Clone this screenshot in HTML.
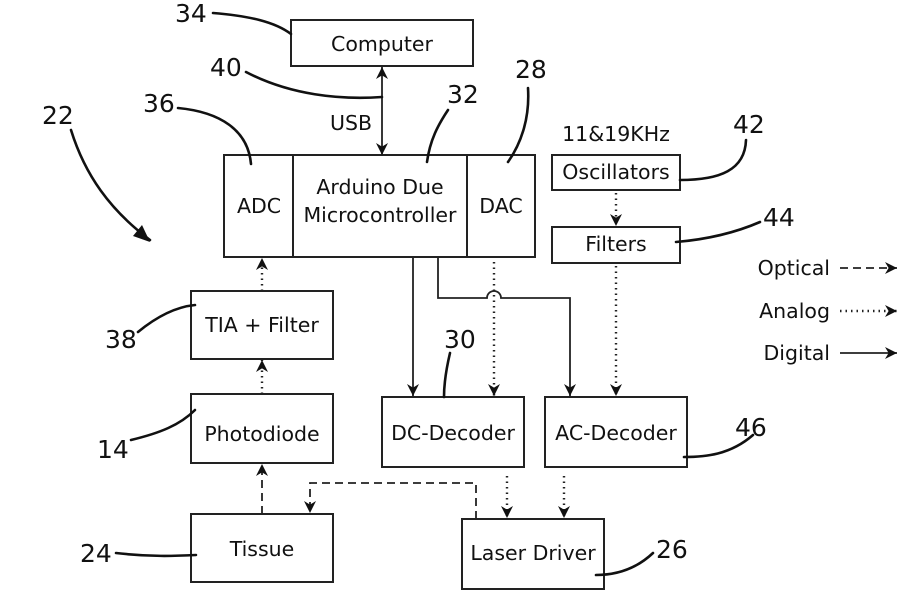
<!DOCTYPE html>
<html><head><meta charset="utf-8"><style>
body{margin:0;background:#fff}
svg{display:block}
text{font-family:"DejaVu Sans","Liberation Sans",sans-serif;fill:#111}
.b{fill:none;stroke:#222;stroke-width:2}
.l{fill:none;stroke:#111;stroke-width:2.6;stroke-linecap:round}
.d{fill:none;stroke:#222;stroke-width:1.8}
.dot{fill:none;stroke:#222;stroke-width:2.4;stroke-dasharray:1.5 4}
.dash{fill:none;stroke:#222;stroke-width:1.8;stroke-dasharray:8 5}
.n{font-size:25px}
.t{font-size:20.5px}
</style></head><body>
<svg width="912" height="609" viewBox="0 0 912 609">
<defs><marker id="a" viewBox="0 0 10 10" refX="10" refY="5" markerWidth="13" markerHeight="12" markerUnits="userSpaceOnUse" orient="auto-start-reverse"><path d="M0,0 L10,5 L0,10 L3,5z" fill="#111"/></marker></defs>
<rect class="b" x="291" y="20" width="182" height="46"/>
<rect class="b" x="224" y="155" width="311" height="102"/>
<line class="b" x1="293" y1="155" x2="293" y2="257"/>
<line class="b" x1="467" y1="155" x2="467" y2="257"/>
<rect class="b" x="552" y="155" width="128" height="35"/>
<rect class="b" x="552" y="227" width="128" height="36"/>
<rect class="b" x="191" y="291" width="142" height="68"/>
<rect class="b" x="191" y="394" width="142" height="69"/>
<rect class="b" x="191" y="514" width="142" height="68"/>
<rect class="b" x="382" y="397" width="142" height="70"/>
<rect class="b" x="545" y="397" width="142" height="70"/>
<rect class="b" x="462" y="519" width="142" height="70"/>
<g class="t" text-anchor="middle">
<text x="382" y="51">Computer</text>
<text x="259" y="213">ADC</text>
<text x="380" y="194">Arduino Due</text>
<text x="380" y="222">Microcontroller</text>
<text x="501" y="213">DAC</text>
<text x="616" y="179">Oscillators</text>
<text x="616" y="251">Filters</text>
<text x="616" y="141">11&amp;19KHz</text>
<text x="262" y="332">TIA + Filter</text>
<text x="262" y="441">Photodiode</text>
<text x="262" y="556">Tissue</text>
<text x="453" y="440">DC-Decoder</text>
<text x="616" y="440">AC-Decoder</text>
<text x="533" y="560">Laser Driver</text>
<text x="351" y="130">USB</text>
</g>
<g class="t" text-anchor="end">
<text x="830" y="275">Optical</text>
<text x="830" y="318">Analog</text>
<text x="830" y="360">Digital</text>
</g>
<line class="dash" x1="840" y1="268" x2="897" y2="268" marker-end="url(#a)"/>
<line class="dot" x1="840" y1="311" x2="897" y2="311" marker-end="url(#a)"/>
<line class="d" x1="840" y1="353" x2="897" y2="353" marker-end="url(#a)"/>
<line class="d" x1="382" y1="67" x2="382" y2="155" marker-start="url(#a)" marker-end="url(#a)"/>
<line class="d" x1="413" y1="257" x2="413" y2="396" marker-end="url(#a)"/>
<path class="d" d="M438,257 V298 H487 A7,7 0 0 1 501,298 H570 V396" marker-end="url(#a)"/>
<line class="dot" x1="494" y1="262" x2="494" y2="396" marker-end="url(#a)"/>
<line class="dot" x1="616" y1="193" x2="616" y2="226" marker-end="url(#a)"/>
<line class="dot" x1="616" y1="266" x2="616" y2="396" marker-end="url(#a)"/>
<line class="dot" x1="507" y1="476" x2="507" y2="518" marker-end="url(#a)"/>
<line class="dot" x1="564" y1="476" x2="564" y2="518" marker-end="url(#a)"/>
<path class="dash" d="M476,519 V483 H310 V513" marker-end="url(#a)"/>
<line class="dash" x1="262" y1="514" x2="262" y2="464" marker-end="url(#a)"/>
<line class="dot" x1="262" y1="394" x2="262" y2="360" marker-end="url(#a)"/>
<line class="dot" x1="262" y1="291" x2="262" y2="258" marker-end="url(#a)"/>
<path class="l" d="M213,13 C250,16 275,22 291,34"/>
<path class="l" d="M246,72 C290,95 340,100 382,97"/>
<path class="l" d="M528,88 C530,120 520,145 508,162"/>
<path class="l" d="M448,110 C438,125 430,140 427,162"/>
<path class="l" d="M178,108 C220,112 248,130 251,164"/>
<path class="l" d="M71,130 C85,175 110,210 150,240"/>
<path d="M150,242 L133,236 L142,225z" fill="#111"/>
<path class="l" d="M746,140 C745,170 720,180 680,180"/>
<path class="l" d="M760,222 C730,235 700,240 676,242"/>
<path class="l" d="M138,332 C155,318 175,307 195,305"/>
<path class="l" d="M131,440 C160,433 180,425 195,410"/>
<path class="l" d="M116,553 C150,557 175,556 196,555"/>
<path class="l" d="M753,435 C730,455 705,457 684,457"/>
<path class="l" d="M653,553 C635,570 615,575 596,575"/>
<path class="l" d="M450,353 C446,370 444,385 444,397"/>
<g class="n">
<text x="175" y="22">34</text>
<text x="210" y="76">40</text>
<text x="515" y="78">28</text>
<text x="447" y="103">32</text>
<text x="143" y="112">36</text>
<text x="42" y="124">22</text>
<text x="733" y="133">42</text>
<text x="763" y="226">44</text>
<text x="105" y="348">38</text>
<text x="444" y="348">30</text>
<text x="97" y="458">14</text>
<text x="735" y="436">46</text>
<text x="80" y="562">24</text>
<text x="656" y="558">26</text>
</g>
</svg>
</body></html>
